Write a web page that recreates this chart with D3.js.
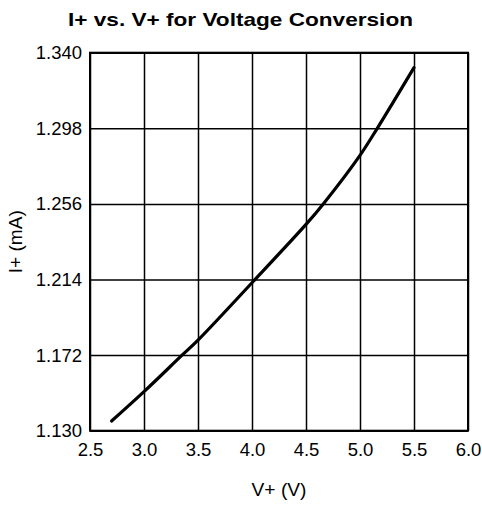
<!DOCTYPE html>
<html>
<head>
<meta charset="utf-8">
<script src="https://cdn.jsdelivr.net/npm/d3@7"></script>
<style>
  html, body { margin: 0; padding: 0; background: #fff; }
  svg { display: block; }
  text { font-family: "Liberation Sans", Arial, Helvetica, sans-serif; fill: #000; }
</style>
</head>
<body>
<svg id="chart" width="482" height="506"></svg>
<script>
// Data
const voltage = [2.7, 3.0, 3.35, 3.5, 4.0, 4.5, 4.66, 5.0, 5.16, 5.5];
const current = [1.1354, 1.1517, 1.1718, 1.1803, 1.2122, 1.2446, 1.2560, 1.2830, 1.2980, 1.3317];
const xTicks = [2.5, 3.0, 3.5, 4.0, 4.5, 5.0, 5.5, 6.0];
const yTicks = [1.130, 1.172, 1.214, 1.256, 1.298, 1.340];
const titleText = "I+ vs. V+ for Voltage Conversion";
const xTitle = "V+ (V)";
const yTitle = "I+ (mA)";

const svg = d3.select("#chart");
const pLeft = 90, pRight = 468, pTop = 52.7, pBottom = 430.7;

const x = d3.scaleLinear().domain([2.5, 6.0]).range([pLeft, pRight]);
const y = d3.scaleLinear().domain([1.130, 1.340]).range([pBottom, pTop]);

// Grid
svg.append("g")
  .attr("transform", `translate(0,${pBottom})`)
  .call(d3.axisBottom(x).tickValues(xTicks).tickSize(-(pBottom - pTop)).tickFormat(""))
  .call(g => g.select(".domain").remove())
  .call(g => g.selectAll("line").attr("stroke", "#000").attr("stroke-width", 1.5));

svg.append("g")
  .attr("transform", `translate(${pLeft},0)`)
  .call(d3.axisLeft(y).tickValues(yTicks).tickSize(-(pRight - pLeft)).tickFormat(""))
  .call(g => g.select(".domain").remove())
  .call(g => g.selectAll("line").attr("stroke", "#000").attr("stroke-width", 1.5));

// Frame
svg.append("rect")
  .attr("x", pLeft).attr("y", pTop)
  .attr("width", pRight - pLeft).attr("height", pBottom - pTop)
  .attr("fill", "none").attr("stroke", "#000").attr("stroke-width", 2);

// Tick labels
svg.append("g")
  .attr("transform", `translate(0,${pBottom})`)
  .call(d3.axisBottom(x).tickValues(xTicks).tickSize(0).tickPadding(12).tickFormat(d3.format(".1f")))
  .call(g => g.select(".domain").remove())
  .call(g => g.selectAll("text")
    .attr("font-size", 18.5)
    .attr("font-family", "'Liberation Sans', Arial, sans-serif"));

svg.append("g")
  .attr("transform", `translate(${pLeft},0)`)
  .call(d3.axisLeft(y).tickValues(yTicks).tickSize(0).tickPadding(8).tickFormat(d3.format(".3f")))
  .call(g => g.select(".domain").remove())
  .call(g => g.selectAll("text")
    .attr("font-size", 18.5)
    .attr("font-family", "'Liberation Sans', Arial, sans-serif"));

// Curve
const pts = voltage.map((v, i) => [v, current[i]]);
svg.append("path")
  .datum(pts)
  .attr("fill", "none")
  .attr("stroke", "#000")
  .attr("stroke-width", 3.2)
  .attr("stroke-linecap", "round")
  .attr("d", d3.line().x(d => x(d[0])).y(d => y(d[1])).curve(d3.curveCatmullRom.alpha(0.5)));

// Titles
svg.append("text")
  .attr("x", 240.5).attr("y", 25.5)
  .attr("text-anchor", "middle")
  .attr("font-size", 19)
  .attr("font-weight", "bold")
  .attr("textLength", 345)
  .attr("lengthAdjust", "spacingAndGlyphs")
  .text(titleText);

svg.append("text")
  .attr("x", (pLeft + pRight) / 2).attr("y", 496)
  .attr("text-anchor", "middle")
  .attr("font-size", 18)
  .attr("textLength", 55)
  .attr("lengthAdjust", "spacingAndGlyphs")
  .text(xTitle);

svg.append("text")
  .attr("transform", `translate(22,${(pTop + pBottom) / 2}) rotate(-90)`)
  .attr("text-anchor", "middle")
  .attr("font-size", 18)
  .attr("textLength", 63)
  .attr("lengthAdjust", "spacingAndGlyphs")
  .text(yTitle);
</script>
</body>
</html>
